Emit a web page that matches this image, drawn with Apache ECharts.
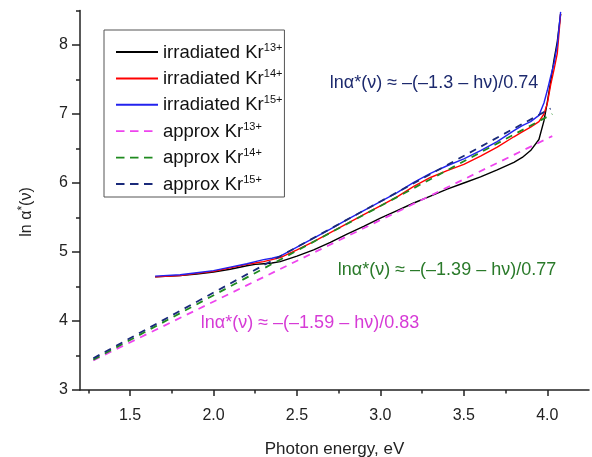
<!DOCTYPE html>
<html>
<head>
<meta charset="utf-8">
<script src="https://cdn.jsdelivr.net/npm/echarts@6/dist/echarts.min.js"></script>
<style>
html,body{margin:0;padding:0;background:#fff;}
#chart{width:592px;height:457px;}
</style>
</head>
<body>
<div id="chart"></div>
<script>
// ---- data ----
const energy = [1.65, 1.8, 1.9, 2.0, 2.1, 2.2, 2.25, 2.3, 2.35, 2.4, 2.5, 2.6, 2.7, 2.8, 2.9, 3.0, 3.1, 3.2, 3.3, 3.4, 3.5, 3.6, 3.7, 3.8, 3.85, 3.9, 3.95, 3.98, 4.0, 4.02, 4.04, 4.06, 4.08];
const kr13 = [4.64,4.66,4.68,4.71,4.75,4.80,4.82,4.83,4.84,4.86,4.94,5.03,5.14,5.26,5.37,5.49,5.60,5.71,5.81,5.91,6.00,6.09,6.19,6.30,6.37,6.47,6.63,6.90,7.17,7.47,7.78,8.05,8.45];
const kr14 = [4.64,4.66,4.69,4.72,4.77,4.82,4.84,4.86,4.89,4.92,5.03,5.15,5.28,5.41,5.54,5.67,5.80,5.95,6.08,6.18,6.27,6.39,6.52,6.67,6.74,6.81,6.89,7.00,7.15,7.42,7.64,7.88,8.45];
const kr15 = [4.65,4.67,4.70,4.73,4.78,4.83,4.86,4.89,4.91,4.94,5.07,5.20,5.33,5.47,5.60,5.73,5.86,6.01,6.14,6.25,6.35,6.47,6.60,6.76,6.83,6.89,6.98,7.16,7.34,7.54,7.73,8.00,8.48];
// approximation lines: endpoints [x, y]
const approx13X = [1.28, 4.03];
const approx13Y = [3.43, 6.68];
const approx14X = [1.28, 4.03];
const approx14Y = [3.44, 7.00];
const approx15X = [1.28, 4.02];
const approx15Y = [3.46, 7.08];
const seriesNames = ['irradiated Kr13+', 'irradiated Kr14+', 'irradiated Kr15+', 'approx Kr13+', 'approx Kr14+', 'approx Kr15+'];
const xTickValues = [1.5, 2.0, 2.5, 3.0, 3.5, 4.0];
const xMinorValues = [1.25, 1.75, 2.25, 2.75, 3.25, 3.75];
const yTickValues = [3, 4, 5, 6, 7, 8];
const yMinorValues = [3.5, 4.5, 5.5, 6.5, 7.5, 8.5];
const annotations = [
  'lnα*(ν) ≈ –(–1.3 – hν)/0.74',
  'lnα*(ν) ≈ –(–1.39 – hν)/0.77',
  'lnα*(ν) ≈ –(–1.59 – hν)/0.83'
];

// ---- chart ----
const zip = (xs, ys) => xs.map((x, i) => [x, ys[i]]);
const FONT = '"Liberation Sans", Arial, sans-serif';
const AX = '#222';
const chart = echarts.init(document.getElementById('chart'), null, {renderer: 'canvas'});

const solid = (name, data, color) => ({
  name, type: 'line', data, xAxisIndex: 0, yAxisIndex: 0,
  showSymbol: false, symbol: 'none', smooth: false,
  lineStyle: {color, width: 1.4}, itemStyle: {color}, z: 2
});
const dashed = (name, data, color) => ({
  name, type: 'line', data, xAxisIndex: 0, yAxisIndex: 0,
  showSymbol: false, symbol: 'none',
  lineStyle: {color, width: 1.8, type: [7, 6]}, itemStyle: {color}, z: 3
});

const legendData = seriesNames.map((n, i) => i < 3 ? {name: n} : {name: n, lineStyle: {type: [8.5, 5.5], width: 1.8}});

const option = {
  backgroundColor: '#fff',
  animation: false,
  textStyle: {fontFamily: FONT},
  grid: {left: 80, right: 3, top: 10.5, bottom: 67, containLabel: false, outerBoundsMode: 'none'},
  xAxis: [
    {
      type: 'value', min: 1.2, max: 4.25, position: 'bottom',
      axisLine: {show: true, onZero: false, lineStyle: {color: AX, width: 1.5}},
      axisTick: {show: true, inside: false, length: 6, lineStyle: {color: AX, width: 1.5}, customValues: xTickValues},
      axisLabel: {customValues: xTickValues, formatter: v => v.toFixed(1), fontSize: 16, color: AX, margin: 18, fontFamily: FONT},
      splitLine: {show: false},
      name: 'Photon energy, eV', nameLocation: 'middle', nameGap: 51,
      nameTextStyle: {fontSize: 17, color: AX, fontFamily: FONT}
    },
    {
      type: 'value', min: 1.2, max: 4.25, position: 'bottom',
      axisLine: {show: false},
      axisTick: {show: true, inside: false, length: 3.5, lineStyle: {color: AX, width: 1.5}, customValues: xMinorValues},
      axisLabel: {show: false}, splitLine: {show: false}
    }
  ],
  yAxis: [
    {
      type: 'value', min: 3, max: 8.5, position: 'left',
      axisLine: {show: true, onZero: false, lineStyle: {color: AX, width: 1.5}},
      axisTick: {show: true, inside: false, length: 8, lineStyle: {color: AX, width: 1.5}, customValues: yTickValues},
      axisLabel: {customValues: yTickValues, fontSize: 16, color: AX, margin: 12, fontFamily: FONT},
      splitLine: {show: false}
    },
    {
      type: 'value', min: 3, max: 8.5, position: 'left',
      axisLine: {show: false},
      axisTick: {show: true, inside: false, length: 4, lineStyle: {color: AX, width: 1.5}, customValues: yMinorValues},
      axisLabel: {show: false}, splitLine: {show: false}
    }
  ],
  legend: {
    orient: 'vertical', left: 104, top: 30,
    padding: [12, 2, 3, 11],
    itemWidth: 42, itemHeight: 14, itemGap: 6.4,
    borderColor: '#555', borderWidth: 1, backgroundColor: '#fff',
    itemStyle: {opacity: 0},
    data: legendData,
    formatter: name => {
      const m = name.match(/^(.*Kr)(\d+\+)$/);
      return '{b|' + m[1] + '}{s|' + m[2] + '}';
    },
    textStyle: {
      fontFamily: FONT, color: '#111',
      rich: {
        b: {fontSize: 18.5, color: '#111', fontFamily: FONT, lineHeight: 20, verticalAlign: 'bottom'},
        s: {fontSize: 11, color: '#111', fontFamily: FONT, lineHeight: 11, verticalAlign: 'top'}
      }
    }
  },
  graphic: [
    {
      type: 'text', x: 26, y: 212, rotation: Math.PI / 2,
      style: {
        text: '{a|ln α}{s|*}{a|(ν)}', align: 'center', verticalAlign: 'middle',
        rich: {
          a: {fontSize: 16, fill: AX, fontFamily: FONT, lineHeight: 18, verticalAlign: 'bottom'},
          s: {fontSize: 12, fill: AX, fontFamily: FONT, lineHeight: 10, verticalAlign: 'top'}
        }
      }
    },
    {type: 'text', x: 434, y: 83, style: {text: annotations[0], fill: '#1d2a6e', font: '18px ' + FONT, align: 'center', verticalAlign: 'middle'}},
    {type: 'text', x: 447, y: 270, style: {text: annotations[1], fill: '#2a7a2a', font: '18px ' + FONT, align: 'center', verticalAlign: 'middle'}},
    {type: 'text', x: 310, y: 323, style: {text: annotations[2], fill: '#d63bd6', font: '18px ' + FONT, align: 'center', verticalAlign: 'middle'}}
  ],
  series: [
    solid(seriesNames[0], zip(energy, kr13), '#000000'),
    solid(seriesNames[1], zip(energy, kr14), '#ff0000'),
    solid(seriesNames[2], zip(energy, kr15), '#2222ee'),
    dashed(seriesNames[3], zip(approx13X, approx13Y), '#ee44ee'),
    dashed(seriesNames[4], zip(approx14X, approx14Y), '#1f8a1f'),
    dashed(seriesNames[5], zip(approx15X, approx15Y), '#1a2a7a')
  ]
};
chart.setOption(option);
</script>
</body>
</html>
